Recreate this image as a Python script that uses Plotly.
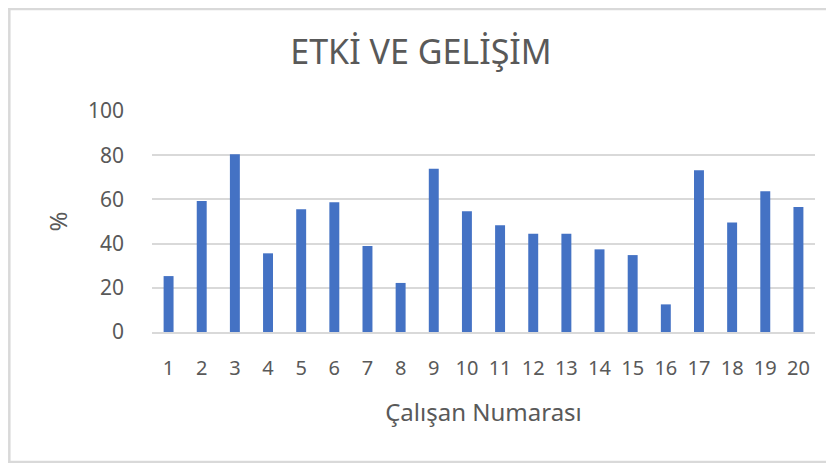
import plotly.graph_objects as go

categories = [str(i) for i in range(1, 21)]
values = [25.3, 59.3, 80.4, 35.6, 55.5, 58.7, 38.9, 22.2, 73.9, 54.6,
          48.3, 44.5, 44.5, 37.4, 34.8, 12.5, 73.2, 49.6, 63.7, 56.6]
y_ticks = [0, 20, 40, 60, 80, 100]

title_text = "ETKİ VE GELİŞİM"
x_title = "Çalışan Numarası"
y_title = "%"

font_family = "Noto Sans, Open Sans, sans-serif"
text_color = "#595959"
frame_color = "#D9D9D9"

fig = go.Figure(go.Bar(x=categories, y=values, marker_color="#4472C4",
                       marker_line_width=0))

frame = dict(type="line", xref="paper", yref="paper",
             line=dict(color=frame_color, width=2.5), layer="below")
# paper area: plot spans x 0..1 of 663 px starting 144 px from figure left
W, H, L, R, T, B = 826, 455, 144, 19, 103, 131
pw, ph = W - L - R, H - T - B
fx0, fx1 = -L / pw, (W - L) / pw
fy0, fy1 = -B / ph, (H - B) / ph

fig.update_layout(
    width=W, height=H,
    margin=dict(l=L, r=R, t=T, b=B),
    paper_bgcolor="white", plot_bgcolor="white",
    bargap=0.7,
    showlegend=False,
    title=dict(text=title_text, x=0.5, xanchor="center", y=0.902, yanchor="middle",
               font=dict(family=font_family, size=34, color=text_color)),
    font=dict(family=font_family, color=text_color),
    shapes=[
        dict(frame, x0=fx0 + 0.002, x1=fx0 + 0.002, y0=fy0, y1=fy1),
        dict(frame, x0=fx0, x1=fx1, y0=fy1 - 0.005, y1=fy1 - 0.005),
        dict(frame, x0=fx0, x1=fx1, y0=fy0 + 0.005, y1=fy0 + 0.005),
    ],
)

fig.update_xaxes(
    type="category", showgrid=False, showline=True, linecolor=frame_color, linewidth=2,
    tickfont=dict(size=20, color=text_color), ticks="", ticklabelstandoff=17,
    title=dict(text=x_title, font=dict(size=24, color=text_color), standoff=24),
)
fig.update_yaxes(
    range=[0, 100], tickvals=y_ticks, showgrid=True, gridcolor=frame_color, gridwidth=2,
    zeroline=False, showline=False, ticks="",
    tickfont=dict(size=21, color=text_color), ticklabelstandoff=27,
    title=dict(text=y_title, font=dict(size=24, color=text_color), standoff=13),
)

fig.write_html("out.html")
